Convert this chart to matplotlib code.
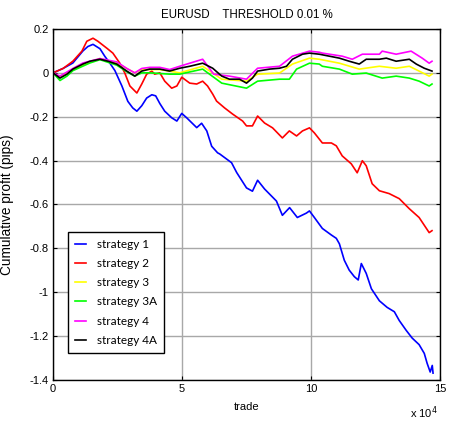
import numpy as np
import matplotlib
matplotlib.use("Agg")
import matplotlib.pyplot as plt
from matplotlib.ticker import FuncFormatter, MultipleLocator

# cumulative profit per strategy, x in units of 1e4 trades
s1_x = [0, 0.39, 0.77, 1.16, 1.35, 1.55, 1.82, 2.01, 2.20, 2.40, 2.67, 2.90, 3.09, 3.25,
        3.44, 3.63, 3.83, 3.98, 4.14, 4.33, 4.60, 4.80, 4.99, 5.18, 5.57, 5.76, 5.96, 6.15,
        6.38, 6.46, 6.92, 7.12, 7.50, 7.73, 7.93, 8.20, 8.66, 8.89, 9.17, 9.47, 9.82, 9.94,
        10.13, 10.44, 10.79, 10.98, 11.10, 11.29, 11.48, 11.68, 11.83, 11.95, 12.14, 12.34,
        12.65, 12.95, 13.23, 13.42, 13.69, 13.92, 14.19, 14.39, 14.50, 14.62, 14.70, 14.73]
s1_y = [0, 0.02, 0.045, 0.10, 0.12, 0.13, 0.11, 0.075, 0.045, 0.01, -0.06, -0.13, -0.16, -0.175,
        -0.15, -0.115, -0.10, -0.105, -0.14, -0.175, -0.205, -0.22, -0.185, -0.205, -0.25, -0.23,
        -0.265, -0.335, -0.365, -0.37, -0.41, -0.455, -0.525, -0.54, -0.49, -0.53, -0.585, -0.65,
        -0.615, -0.66, -0.64, -0.63, -0.66, -0.71, -0.74, -0.755, -0.78, -0.855, -0.90, -0.93,
        -0.945, -0.87, -0.915, -0.985, -1.04, -1.07, -1.09, -1.13, -1.175, -1.21, -1.24, -1.28,
        -1.325, -1.365, -1.335, -1.37]

s2_x = [0, 0.39, 0.77, 1.12, 1.31, 1.55, 1.74, 2.09, 2.32, 2.59, 2.78, 2.98, 3.25, 3.44,
        3.63, 3.83, 3.94, 4.14, 4.33, 4.60, 4.80, 4.99, 5.30, 5.57, 5.80, 5.99, 6.19, 6.34,
        6.65, 6.96, 7.35, 7.50, 7.73, 7.93, 8.20, 8.51, 8.89, 9.16, 9.44, 9.67, 9.94, 10.13,
        10.44, 10.79, 10.98, 11.21, 11.56, 11.79, 11.99, 12.14, 12.37, 12.65, 13.03, 13.42,
        13.81, 14.19, 14.58, 14.69]
s2_y = [0, 0.02, 0.053, 0.099, 0.144, 0.158, 0.144, 0.112, 0.09, 0.044, 0, -0.06, -0.092, -0.051,
        -0.006, 0.008, -0.006, 0, -0.038, -0.07, -0.06, -0.02, -0.047, -0.051, -0.038, -0.06,
        -0.097, -0.129, -0.16, -0.188, -0.22, -0.242, -0.242, -0.197, -0.229, -0.251, -0.297,
        -0.265, -0.288, -0.265, -0.251, -0.274, -0.32, -0.32, -0.333, -0.379, -0.415, -0.456,
        -0.401, -0.424, -0.506, -0.538, -0.551, -0.574, -0.62, -0.66, -0.729, -0.72]

s3_x = [0, 0.27, 0.77, 1.43, 1.82, 2.47, 2.86, 3.17, 3.44, 4.14, 4.91, 5.80, 6.54, 7.50,
        7.93, 8.78, 9.28, 9.94, 10.32, 11.10, 11.87, 12.65, 13.30, 13.81, 14.19, 14.58, 14.69]
s3_y = [0, -0.02, 0.015, 0.05, 0.065, 0.045, 0.02, 0.0, 0.015, 0.015, 0.0, 0.03, -0.029, -0.038,
        -0.006, -0.001, 0.04, 0.067, 0.062, 0.044, 0.017, 0.03, 0.021, 0.03, 0.008, -0.015, -0.006]

s3a_x = [0, 0.27, 0.54, 0.77, 1.43, 1.82, 2.47, 2.86, 3.17, 3.44, 3.75, 4.52, 4.91, 5.80,
         6.54, 7.50, 7.93, 8.78, 9.16, 9.44, 9.94, 10.32, 10.44, 11.10, 11.60, 12.14, 12.76,
         13.30, 13.81, 14.19, 14.58, 14.69]
s3a_y = [0, -0.035, -0.015, 0.01, 0.045, 0.06, 0.035, 0.005, -0.015, 0.0, 0.0, -0.006, -0.006,
         0.017, -0.047, -0.07, -0.038, -0.029, -0.029, 0.017, 0.044, 0.04, 0.03, 0.017, -0.006,
         -0.001, -0.024, -0.015, -0.024, -0.038, -0.06, -0.051]

s4_x = [0, 0.27, 0.77, 1.16, 1.82, 2.47, 2.86, 3.17, 3.44, 3.75, 4.14, 4.52, 4.91, 5.80,
        6.23, 6.84, 7.50, 7.93, 8.78, 9.28, 9.94, 10.32, 10.44, 11.21, 11.60, 11.99, 12.65,
        12.76, 13.30, 13.88, 14.31, 14.58, 14.69]
s4_y = [0, -0.015, 0.02, 0.045, 0.065, 0.05, 0.02, 0.0, 0.02, 0.025, 0.025, 0.015, 0.03, 0.062,
        -0.006, -0.015, -0.029, 0.021, 0.03, 0.076, 0.099, 0.094, 0.09, 0.076, 0.062, 0.085,
        0.085, 0.099, 0.085, 0.099, 0.067, 0.044, 0.053]

s4a_x = [0, 0.27, 0.54, 0.77, 1.16, 1.43, 1.82, 2.13, 2.47, 2.86, 3.17, 3.44, 3.75, 4.14,
         4.52, 4.91, 5.30, 5.80, 6.19, 6.54, 6.84, 7.23, 7.50, 7.73, 7.93, 8.39, 8.78, 9.05,
         9.28, 9.67, 9.94, 10.32, 11.10, 11.48, 11.87, 12.14, 12.65, 12.92, 13.30, 13.81,
         14.08, 14.39, 14.69]
s4a_y = [0, -0.024, -0.006, 0.017, 0.04, 0.053, 0.062, 0.053, 0.04, 0.008, -0.015, 0.008, 0.017,
         0.017, 0.008, 0.021, 0.03, 0.044, 0.021, -0.015, -0.029, -0.029, -0.047, -0.024, 0.008,
         0.017, 0.021, 0.03, 0.062, 0.085, 0.09, 0.085, 0.067, 0.053, 0.04, 0.062, 0.062, 0.067,
         0.053, 0.062, 0.04, 0.021, 0.008]

series = [
    ("strategy 1", s1_x, s1_y, "#0000ff"),
    ("strategy 2", s2_x, s2_y, "#ff0000"),
    ("strategy 3", s3_x, s3_y, "#ffff00"),
    ("strategy 3A", s3a_x, s3a_y, "#00ff00"),
    ("strategy 4", s4_x, s4_y, "#ff00ff"),
    ("strategy 4A", s4a_x, s4a_y, "#000000"),
]

plt.rcParams["font.family"] = ["Liberation Sans", "DejaVu Sans"]

fig = plt.figure(figsize=(4.5, 4.24), dpi=100)
ax = fig.add_axes([0.1178, 0.1045, 0.8600, 0.8271])

for name, xs, ys, col in series:
    ax.plot(np.array(xs) * 1e4, ys, color=col, lw=1.2, label=name)

ax.set_xlim(0, 15e4)
ax.set_ylim(-1.4, 0.2)
ax.xaxis.set_major_locator(MultipleLocator(5e4))
ax.yaxis.set_major_locator(MultipleLocator(0.2))
ax.xaxis.set_major_formatter(FuncFormatter(lambda v, p: f"{v / 1e4:g}"))
ax.yaxis.set_major_formatter(FuncFormatter(lambda v, p: f"{round(v, 1):g}"))
ax.tick_params(direction="in", length=3, top=True, right=True, labelsize=8, pad=3)
ax.grid(True, color="#a8a8a8", lw=1.0)
ax.set_axisbelow(True)
for sp in ax.spines.values():
    sp.set_linewidth(1.0)

ax.set_title("EURUSD    THRESHOLD 0.01 %", fontsize=8.3, pad=8)
ax.set_ylabel("Cumulative profit (pips)", fontsize=9.8)
ax.yaxis.set_label_coords(-0.1, 0.5)
ax.set_xlabel("trade", fontsize=8)
ax.xaxis.set_label_coords(0.5, -0.065)
ax.text(0.995, -0.109, "x 10$^4$", transform=ax.transAxes, ha="right",
        va="baseline", fontsize=8)

leg = ax.legend(loc="lower left", bbox_to_anchor=(0.039, 0.076), borderaxespad=0,
                fancybox=False, framealpha=1, edgecolor="black",
                prop={"family": "Lato", "size": 8.5}, handlelength=0.95,
                handletextpad=0.9, borderpad=0.6, labelspacing=0.7)
leg.get_frame().set_linewidth(1.0)

fig.savefig("out.png", dpi=100)
